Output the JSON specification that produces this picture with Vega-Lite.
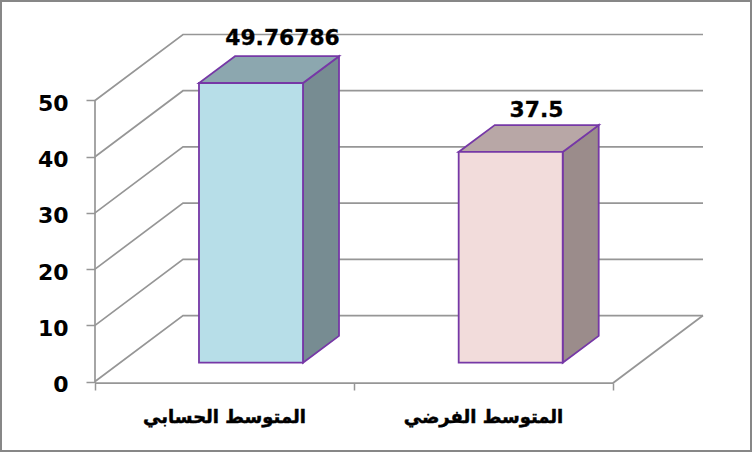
{
"$schema":"https://vega.github.io/schema/vega-lite/v6.json",
"width":752,"height":452,"padding":0,"autosize":{"type":"none"},"background":"white",
"view":{"stroke":"#878787","strokeWidth":4,"fill":"white"},
"datasets":{
"grid":[
{"line":"0","u":0,"v":0,"o":0},{"line":"0","u":0.3398,"v":11.74,"o":1},{"line":"0","u":2.3475,"v":11.74,"o":2},
{"line":"10","u":0,"v":10,"o":0},{"line":"10","u":0.3398,"v":21.74,"o":1},{"line":"10","u":2.3475,"v":21.74,"o":2},
{"line":"20","u":0,"v":20,"o":0},{"line":"20","u":0.3398,"v":31.74,"o":1},{"line":"20","u":2.3475,"v":31.74,"o":2},
{"line":"30","u":0,"v":30,"o":0},{"line":"30","u":0.3398,"v":41.74,"o":1},{"line":"30","u":2.3475,"v":41.74,"o":2},
{"line":"40","u":0,"v":40,"o":0},{"line":"40","u":0.3398,"v":51.74,"o":1},{"line":"40","u":2.3475,"v":51.74,"o":2},
{"line":"50","u":0,"v":50,"o":0},{"line":"50","u":0.3398,"v":61.74,"o":1},{"line":"50","u":2.3475,"v":61.74,"o":2},
{"line":"floor","u":0,"v":-0.27,"o":0},{"line":"floor","u":2,"v":-0.27,"o":1},{"line":"floor","u":2.3475,"v":11.74,"o":2},
{"line":"yaxis","u":0,"v":-0.27,"o":0},{"line":"yaxis","u":0,"v":50,"o":1}
],
"front":[
{"cat":"المتوسط الحسابي","u0":0.4015,"u1":0.8031,"base":3.345,"top":53.113,"fill":"#B7DEE8"},
{"cat":"المتوسط الفرضي","u0":1.4042,"u1":1.8058,"base":3.345,"top":40.845,"fill":"#F2DCDB"}
],
"side":[
{"cat":"a","u":0.8031,"lo":3.345,"hi":53.113,"fill":"#778C92"},{"cat":"a","u":0.9421,"lo":8.115,"hi":57.883,"fill":"#778C92"},
{"cat":"b","u":1.8058,"lo":3.345,"hi":40.845,"fill":"#9B8C8B"},{"cat":"b","u":1.9448,"lo":8.115,"hi":45.615,"fill":"#9B8C8B"}
],
"topface":[
{"cat":"a","v":53.113,"u0":0.4015,"u1":0.8031,"fill":"#8CA7AF"},{"cat":"a","v":57.883,"u0":0.5405,"u1":0.9421,"fill":"#8CA7AF"},
{"cat":"b","v":40.845,"u0":1.4042,"u1":1.8058,"fill":"#B8A7A6"},{"cat":"b","v":45.615,"u0":1.5432,"u1":1.9448,"fill":"#B8A7A6"}
],
"values":[
{"label":"49.76786","u":0.7239,"v":59.88},{"label":"37.5","u":1.7046,"v":47.1}
],
"cats":[
{"cat":"المتوسط الحسابي","u":0.5,"v":-7.3},{"cat":"المتوسط الفرضي","u":1.5,"v":-7.3}
]
},
"encoding":{
"x":{"field":"u","type":"quantitative","scale":{"domain":[-0.3668,2.5367],"nice":false,"zero":false},
"axis":{"title":null,"orient":"bottom","offset":-69,"values":[0,1,2],"labels":false,"grid":false,"domain":false,"tickColor":"#969696","tickWidth":1.5,"tickSize":7}},
"y":{"field":"v","type":"quantitative","scale":{"domain":[-12.54,67.88],"nice":false,"zero":false},
"axis":{"title":null,"orient":"left","offset":-95,"values":[0,10,20,30,40,50],"grid":false,"domain":false,"tickColor":"#969696","tickWidth":1.5,"tickSize":9,"labelFont":"DejaVu Sans","labelFontWeight":"bold","labelFontSize":22,"labelColor":"black","labelPadding":18,"labelBaseline":"middle","labelOffset":3}}
},
"layer":[
{"data":{"name":"grid"},"mark":{"type":"line","color":"#969696","strokeWidth":1.7,"interpolate":"linear"},
 "encoding":{"detail":{"field":"line"},"order":{"field":"o"}}},
{"data":{"name":"side"},"mark":{"type":"area","stroke":"#7638A6","strokeWidth":1.8},
 "encoding":{"detail":{"field":"cat"},"x":{"field":"u","type":"quantitative"},"y":{"field":"lo","type":"quantitative"},"y2":{"field":"hi"},"fill":{"field":"fill","type":"nominal","scale":null},"stroke":{"value":"#7638A6"}}},
{"data":{"name":"topface"},"mark":{"type":"area","orient":"horizontal","stroke":"#7638A6","strokeWidth":1.8},
 "encoding":{"detail":{"field":"cat"},"y":{"field":"v","type":"quantitative"},"x":{"field":"u0","type":"quantitative"},"x2":{"field":"u1"},"fill":{"field":"fill","type":"nominal","scale":null},"stroke":{"value":"#7638A6"}}},
{"data":{"name":"front"},"mark":{"type":"rect","stroke":"#7638A6","strokeWidth":1.8},
 "encoding":{"x":{"field":"u0","type":"quantitative"},"x2":{"field":"u1"},"y":{"field":"base","type":"quantitative"},"y2":{"field":"top"},"fill":{"field":"fill","type":"nominal","scale":null}}},
{"data":{"name":"values"},"mark":{"type":"text","font":"DejaVu Sans","fontWeight":"bold","fontSize":21.8,"color":"black","stroke":"black","strokeWidth":0.3,"align":"center","baseline":"alphabetic"},
 "encoding":{"text":{"field":"label"}}},
{"data":{"name":"cats"},"mark":{"type":"text","font":"DejaVu Sans","fontWeight":"bold","fontSize":18,"color":"black","stroke":"black","strokeWidth":0.5,"align":"center","baseline":"alphabetic"},
 "encoding":{"text":{"field":"cat"}}}
]
}
